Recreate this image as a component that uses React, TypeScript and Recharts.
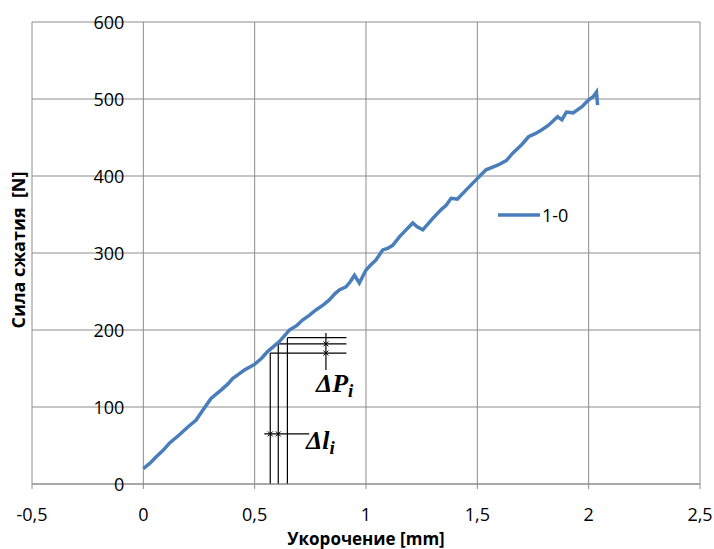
import React from 'react';
import {
    LineChart, Line, XAxis, YAxis, CartesianGrid, ReferenceLine, ReferenceDot, Legend,
} from 'recharts';

// shortening [mm] / compressive force [N]
const shortening = [
    0, 0.03, 0.057, 0.09, 0.117, 0.162, 0.2, 0.237, 0.27, 0.304, 0.349, 0.38, 0.401, 0.43, 0.454, 0.498, 0.53, 0.558,
    0.611, 0.656, 0.69, 0.715, 0.745, 0.775, 0.81, 0.835, 0.86, 0.88, 0.91, 0.93, 0.948, 0.97, 1.0, 1.02, 1.045,
    1.075, 1.097, 1.12, 1.15, 1.18, 1.21, 1.23, 1.255, 1.3, 1.34, 1.36, 1.382, 1.41, 1.45, 1.494, 1.539, 1.591,
    1.63, 1.66, 1.7, 1.73, 1.76, 1.79, 1.82, 1.86, 1.88, 1.9, 1.93, 1.97, 2.0, 2.02, 2.035, 2.04,
];
const force = [
    20, 27, 35, 44, 53, 64, 74, 83, 97, 111, 122, 130, 137, 143, 148, 155, 163, 172,
    185, 200, 206, 213, 219, 226, 233, 239, 247, 252, 256, 263, 271, 261, 278, 284, 291,
    304, 306, 310, 321, 330, 339, 334, 330, 345, 357, 362, 371, 370, 382, 395, 408, 414,
    420, 430, 441, 451, 455, 460, 466, 477, 473, 483, 482, 490, 499, 503, 509, 492,
];

const xTicks = [-0.5, 0, 0.5, 1, 1.5, 2, 2.5];
const yTicks = [0, 100, 200, 300, 400, 500, 600];

// ΔP / Δl construction lines
const stepX = [0.57, 0.606, 0.647];
const stepY = [170, 182, 190];
const dpX = 0.82;
const dpEnd = 0.912;
const dpRange = [148, 196];
const dlY = 65;
const dlRange = [0.543, 0.745];

const data = shortening.map((x, i) => ({ x, y: force[i] }));

const GRID = '#8c8c8c';
const BLUE = '#4A7EBB';
const FONT = '"Open Sans", sans-serif';

const fmt = (v: number) => String(v).replace('.', ',');

const Cross = (props: any) => (
    <g stroke="#000" strokeWidth={1}>
        <line x1={props.cx - 2.5} y1={props.cy - 2.5} x2={props.cx + 2.5} y2={props.cy + 2.5} />
        <line x1={props.cx - 2.5} y1={props.cy + 2.5} x2={props.cx + 2.5} y2={props.cy - 2.5} />
    </g>
);

const deltaLabel = (main: string) => (props: any) => (
    <text x={props.cx} y={props.cy} fontFamily='"Liberation Serif", serif' fontWeight="bold" fontStyle="italic" fontSize={26} fill="#000">
        {main}
        <tspan fontSize={19} dy={5}>i</tspan>
    </text>
);

const yTickLabel = (v: number) => (props: any) => (
    <text x={props.cx - 19} y={props.cy} textAnchor="end" dominantBaseline="central" fontFamily={FONT} fontSize={18} fill="#000">
        {v}
    </text>
);

const LegendBox = () => (
    <div style={{ display: 'flex', alignItems: 'center', fontFamily: FONT, fontSize: 18 }}>
        <svg width={44} height={10}><line x1={0} y1={5} x2={42} y2={5} stroke={BLUE} strokeWidth={3.5} /></svg>
        <span>1-0</span>
    </div>
);

export default function App() {
    return (
        <div style={{ position: 'absolute', left: 0, top: 0, width: 714, height: 549, background: '#fff' }}>
            <div style={{
                position: 'absolute', left: 18, top: 250, transform: 'translate(-50%, -50%) rotate(-90deg)',
                fontFamily: FONT, fontWeight: 'bold', fontSize: 18, whiteSpace: 'pre',
            }}>
                Сила сжатия  [N]
            </div>
            <LineChart width={714} height={549} data={data} margin={{ top: 22, right: 14, bottom: 0, left: 32 }}>
                <CartesianGrid stroke={GRID} strokeWidth={1} />
                <XAxis
                    type="number"
                    dataKey="x"
                    domain={[-0.5, 2.5]}
                    ticks={xTicks}
                    tickFormatter={fmt}
                    height={65}
                    stroke={GRID}
                    tickSize={5}
                    tickMargin={19}
                    tick={{ fill: '#000', fontSize: 18, fontFamily: FONT }}
                    label={{ value: 'Укорочение [mm]', position: 'insideBottom', offset: 4, fill: '#000', fontSize: 17, fontWeight: 'bold', fontFamily: FONT }}
                />
                <YAxis hide type="number" domain={[0, 600]} ticks={yTicks} />
                {yTicks.map((v) => (
                    <ReferenceDot key={'yt' + v} x={0} y={v} r={0} ifOverflow="visible" shape={yTickLabel(v)} />
                ))}
                {stepX.map((x, i) => (
                    <ReferenceLine key={'v' + i} segment={[{ x, y: 0 }, { x, y: stepY[i] }]} stroke="#000" strokeWidth={1.2} ifOverflow="visible" />
                ))}
                {stepX.map((x, i) => (
                    <ReferenceLine key={'h' + i} segment={[{ x, y: stepY[i] }, { x: dpEnd, y: stepY[i] }]} stroke="#000" strokeWidth={1.2} ifOverflow="visible" />
                ))}
                <ReferenceLine segment={[{ x: dpX, y: dpRange[0] }, { x: dpX, y: dpRange[1] }]} stroke="#000" strokeWidth={1.2} />
                <ReferenceLine segment={[{ x: dlRange[0], y: dlY }, { x: dlRange[1], y: dlY }]} stroke="#000" strokeWidth={1.2} />
                <ReferenceDot x={dpX} y={stepY[0]} r={0} shape={Cross} />
                <ReferenceDot x={dpX} y={stepY[1]} r={0} shape={Cross} />
                <ReferenceDot x={stepX[0]} y={dlY} r={0} shape={Cross} />
                <ReferenceDot x={stepX[1]} y={dlY} r={0} shape={Cross} />
                <ReferenceDot x={0.775} y={120} r={0} shape={deltaLabel('ΔP')} />
                <ReferenceDot x={0.73} y={45} r={0} shape={deltaLabel('Δl')} />
                <Line type="linear" dataKey="y" name="1-0" stroke={BLUE} strokeWidth={3.5} dot={false} isAnimationActive={false} />
                <Legend layout="horizontal" verticalAlign="middle" content={LegendBox} wrapperStyle={{ left: 498, top: 203, width: 100 }} />
            </LineChart>
        </div>
    );
}
